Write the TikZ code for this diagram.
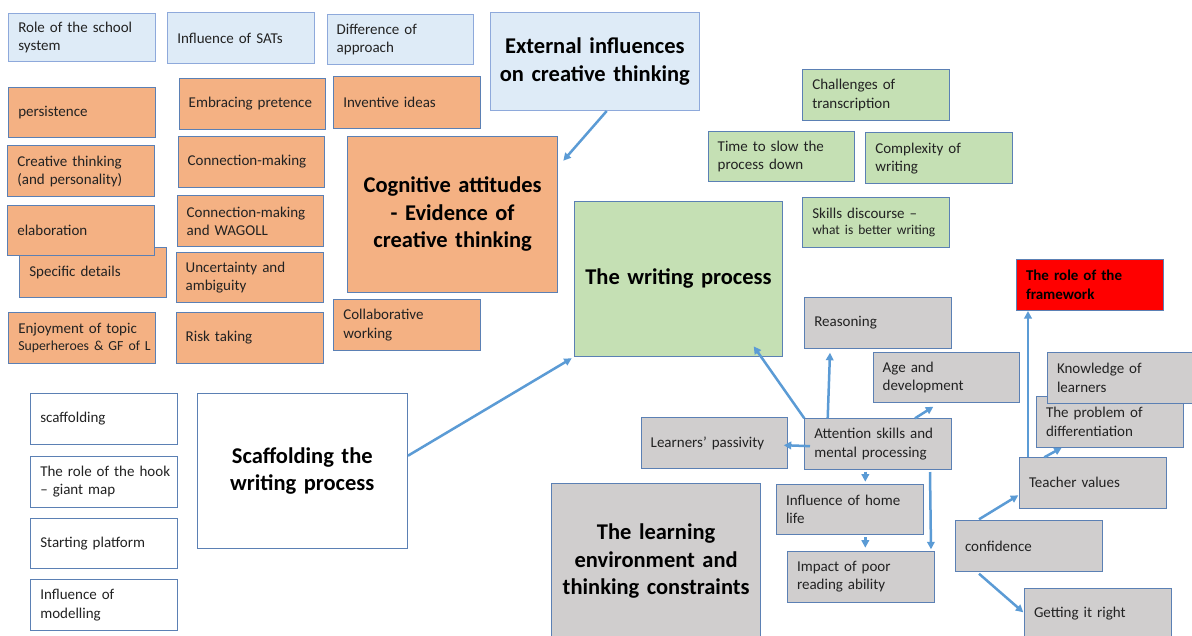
\documentclass[tikz,border=0pt]{standalone}
\usepackage{fontspec}
\setmainfont{Carlito}
\usetikzlibrary{calc,arrows.meta}
\definecolor{bfill}{HTML}{DEEBF7}
\definecolor{bline}{HTML}{8EA9DB}
\definecolor{ofill}{HTML}{F4B183}
\definecolor{gfill}{HTML}{C5E0B4}
\definecolor{grfill}{HTML}{D0CECE}
\definecolor{edge}{HTML}{5B80B4}
\definecolor{arr}{HTML}{5B9BD5}
\definecolor{txt}{HTML}{222222}
\newcommand\bx[7]{%
  \pgfmathsetmacro\bxw{#5-#3}\pgfmathsetmacro\bxh{#6-#4}\pgfmathsetmacro\bxt{#5-#3-19}%
  \node[anchor=north west, minimum width=\bxw pt, minimum height=\bxh pt, text width=\bxt pt, #2] (#1) at (#3,#4) {#7};}
\tikzset{
  sm/.style={draw=edge, line width=1pt, inner xsep=9.5pt, inner ysep=0pt, align=left,
    font=\fontsize{15}{18.3}\selectfont, text=txt},
  big/.style={sm, align=center, text width=201pt, inner xsep=2pt,
    font=\fontsize{22.5}{27.4}\selectfont\bfseries, text=black},
  blue/.style={fill=bfill, draw=bline},
  orng/.style={fill=ofill},
  grn/.style={fill=gfill},
  gry/.style={fill=grfill},
  wht/.style={fill=white},
  redb/.style={fill=red, font=\fontsize{15}{18.3}\selectfont\bfseries, text=black},
  conn/.style={draw=arr, line width=2.5pt, -{Triangle[length=7.5pt,width=7.5pt]}}
}
\begin{document}
\begin{tikzpicture}[x=1pt,y=-1pt]
\useasboundingbox (0,0) rectangle (1192,635);
\clip (0,0) rectangle (1192,635);
\fill[white] (0,0) rectangle (1192,635);
% blue
\bx{role}{sm,blue}{8.3}{13.3}{155}{61.3}{Role of the school\\system}
\bx{sats}{sm,blue}{167.3}{12.3}{314.3}{63.3}{Influence of SATs}
\bx{diff}{sm,blue}{326.7}{13.7}{473.3}{64}{Difference of\\approach}
\bx{ext}{big,blue}{489.7}{11.7}{699}{110}{External influences\\on creative thinking}
% orange
\bx{pers}{sm,orng}{8.3}{86.7}{155}{137}{persistence}
\bx{crea}{sm,orng}{7.3}{145.3}{154}{196}{Creative thinking\\(and personality)}
\bx{spec}{sm,orng}{19.3}{246.7}{165.7}{297.3}{Specific details}
\bx{elab}{sm,orng}{7.3}{204.7}{154}{255.3}{elaboration}
\bx{enj}{sm,orng}{8.3}{312.3}{155}{362.7}{Enjoyment of topic\\[-1.6pt]\mbox{\fontsize{13.8}{16}\selectfont Superheroes \& GF of L}}
\bx{emb}{sm,orng}{178.7}{78.3}{325}{128.7}{Embracing pretence}
\bx{conn}{sm,orng}{177.7}{136.3}{324.3}{186.7}{Connection-making}
\bx{wag}{sm,orng}{176.7}{195.3}{323.3}{246}{Connection-making\\and WAGOLL}
\bx{unc}{sm,orng}{175.7}{251.7}{322.7}{302.3}{Uncertainty and\\ambiguity}
\bx{risk}{sm,orng}{175.7}{312.3}{322.7}{362.7}{Risk taking}
\bx{inv}{sm,orng}{333.3}{76.3}{479.7}{128.3}{Inventive ideas}
\bx{cog}{big,orng}{347.3}{136}{557}{291.7}{Cognitive attitudes\\- Evidence of\\creative thinking}
\bx{coll}{sm,orng}{333.3}{299.3}{479.7}{350}{Collaborative\\working}
% green
\bx{chal}{sm,grn}{802.3}{69}{949.3}{119.7}{Challenges of\\transcription}
\bx{time}{sm,grn}{707.7}{130.7}{854.3}{181.3}{Time to slow the\\process down}
\bx{comp}{sm,grn}{865.3}{132.3}{1012}{183.3}{Complexity of\\writing}
\bx{skill}{sm,grn}{802.3}{196.7}{949.3}{247.3}{Skills discourse --\\[-1.6pt]\mbox{\fontsize{13.5}{16}\selectfont what is better writing}}
\bx{wp}{big,grn}{573.7}{200.7}{782.3}{356}{The writing process}
% red
\bx{frame}{sm,redb}{1016}{258.7}{1163}{309.7}{The role of the\\framework}
% gray
\bx{reas}{sm,gry}{804.3}{297}{951}{348}{Reasoning}
\bx{age}{sm,gry}{872.7}{351.7}{1019.3}{402.3}{Age and\\development}
\bx{prob}{sm,gry}{1036}{395.7}{1183}{446.7}{The problem of\\differentiation}
\bx{know}{sm,gry}{1047}{351.7}{1194}{402.7}{Knowledge of\\learners}
\bx{pas}{sm,gry}{640.7}{417.3}{787.3}{468.3}{Learners’ passivity}
\bx{att}{sm,gry}{804.3}{418.3}{951}{469}{Attention skills and\\mental processing}
\bx{home}{sm,gry}{776}{483.7}{922.7}{534.3}{Influence of home\\life}
\bx{imp}{sm,gry}{787}{551}{933.7}{601.7}{Impact of poor\\reading ability}
\bx{learn}{big,gry}{551}{482.7}{760.3}{638.7}{The learning\\environment and\\thinking constraints}
\bx{tv}{sm,gry}{1019}{456.7}{1165.7}{507.7}{Teacher values}
\bx{conf}{sm,gry}{955}{520}{1102}{571}{confidence}
\bx{get}{sm,gry}{1024}{587.7}{1170.7}{638.7}{Getting it right}
% white
\bx{scf}{sm,wht}{30.3}{392.7}{177}{444}{scaffolding}
\bx{hook}{sm,wht}{30.3}{456}{177}{506.7}{\mbox{The role of the hook}\\-- giant map}
\bx{start}{sm,wht}{30.3}{517.7}{177}{568}{Starting platform}
\bx{model}{sm,wht}{30.3}{579}{177}{630}{Influence of\\modelling}
\bx{scaf}{big,wht}{196.5}{392.7}{407}{548}{Scaffolding the\\writing process}
% connectors
\draw[conn] ($(ext.south west)+(117,0)$) -- ($(cog.north east)+(5.3,24.7)$);
\draw[conn] ($(scaf.north east)+(0,63)$) -- ($(wp.south west)+(-2,1.3)$);
\draw[conn] (att.north west) -- ($(wp.south east)+(-29.6,-10.7)$);
\draw[conn] ($(att.north west)+(23.4,0)$) -- ($(reas.south west)+(25.7,3.7)$);
\draw[conn] ($(att.north west)+(110.7,0)$) -- ($(age.south west)+(60.6,3.4)$);
\draw[conn] ($(att.west)+(5.7,2)$) -- ($(pas.east)+(-4.6,1.9)$);
\draw[conn] ($(att.south west)+(61,1.7)$) -- ($(home.north west)+(89.3,-2)$);
\draw[conn] ($(home.south west)+(89.3,1.7)$) -- ($(imp.north west)+(78.3,-3.3)$);
\draw[conn] ($(att.south west)+(125.7,2)$) -- ($(imp.north east)+(-3.7,-1.7)$);
\draw[conn] ($(tv.north west)+(9,0)$) -- ($(frame.south west)+(12,0.3)$);
\draw[conn] ($(tv.north west)+(25.3,0.6)$) -- ($(prob.south west)+(25.7,0)$);
\draw[conn] ($(conf.north west)+(24,-0.7)$) -- ($(tv.south west)+(-0.7,-13.4)$);
\draw[conn] ($(conf.south west)+(24,1.7)$) -- ($(get.north west)+(-0.7,24.6)$);
\end{tikzpicture}
\end{document}
